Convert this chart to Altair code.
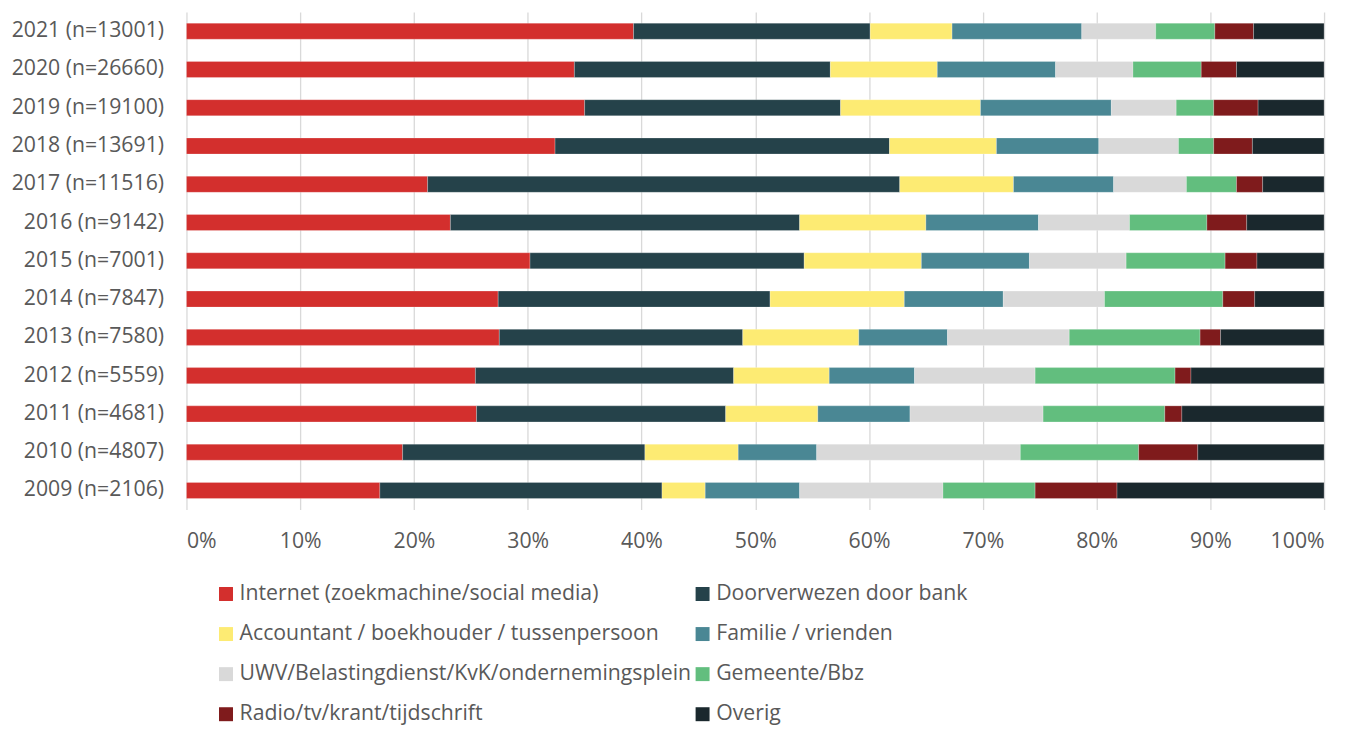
import altair as alt
import pandas as pd

years = ["2021 (n=13001)", "2020 (n=26660)", "2019 (n=19100)", "2018 (n=13691)",
         "2017 (n=11516)", "2016 (n=9142)", "2015 (n=7001)", "2014 (n=7847)",
         "2013 (n=7580)", "2012 (n=5559)", "2011 (n=4681)", "2010 (n=4807)",
         "2009 (n=2106)"]

categories = ["Internet (zoekmachine/social media)", "Doorverwezen door bank",
              "Accountant / boekhouder / tussenpersoon", "Familie / vrienden",
              "UWV/Belastingdienst/KvK/ondernemingsplein", "Gemeente/Bbz",
              "Radio/tv/krant/tijdschrift", "Overig"]

colors = ["#D32F2D", "#25424A", "#FDEB73", "#4A8794", "#D9D9D9", "#62BE7E",
          "#7F1B1C", "#1A282D"]

internet = [39.3, 34.1, 35.0, 32.4, 21.2, 23.2, 30.2, 27.4, 27.5, 25.4, 25.5, 19.0, 17.0]
bank = [20.8, 22.5, 22.5, 29.4, 41.5, 30.7, 24.1, 23.9, 21.4, 22.7, 21.9, 21.3, 24.8]
accountant = [7.2, 9.4, 12.3, 9.4, 10.0, 11.1, 10.3, 11.8, 10.2, 8.4, 8.1, 8.2, 3.8]
familie = [11.4, 10.4, 11.5, 9.0, 8.8, 9.9, 9.5, 8.7, 7.8, 7.5, 8.1, 6.9, 8.3]
uwv = [6.5, 6.8, 5.7, 7.0, 6.4, 8.0, 8.5, 8.9, 10.7, 10.6, 11.7, 17.9, 12.6]
gemeente = [5.2, 6.0, 3.3, 3.1, 4.4, 6.8, 8.7, 10.4, 11.5, 12.3, 10.7, 10.4, 8.1]
radio = [3.4, 3.1, 3.9, 3.4, 2.3, 3.5, 2.8, 2.8, 1.8, 1.4, 1.5, 5.2, 7.2]
overig = [6.2, 7.7, 5.8, 6.3, 5.4, 6.8, 5.9, 6.1, 9.1, 11.7, 12.5, 11.1, 18.2]

series = [internet, bank, accountant, familie, uwv, gemeente, radio, overig]

rows = []
for ci, (cat, vals) in enumerate(zip(categories, series)):
    for y, v in zip(years, vals):
        rows.append({"jaar": y, "bron": cat, "waarde": v, "volgorde": ci})
df = pd.DataFrame(rows)

FONT = "Open Sans"
FS = 21.3
GREY = "#595959"

chart = alt.Chart(df).mark_bar(stroke="white", strokeWidth=0.4, strokeOpacity=0.6).encode(
    x=alt.X("waarde:Q", stack="normalize",
            scale=alt.Scale(domain=[0, 1], nice=False),
            axis=alt.Axis(format="%", values=[0, 0.1, 0.2, 0.3, 0.4, 0.5, 0.6, 0.7, 0.8, 0.9, 1.0],
                          title=None, domain=False, ticks=False, grid=True,
                          gridColor="#D9D9D9", gridWidth=1.3,
                          labelFont=FONT, labelFontSize=FS, labelColor=GREY,
                          labelPadding=21)),
    y=alt.Y("jaar:N", sort=years,
            scale=alt.Scale(paddingInner=0.58, paddingOuter=0.29),
            axis=alt.Axis(title=None, domain=False, ticks=False, grid=False,
                          labelFont=FONT, labelFontSize=FS, labelColor=GREY,
                          labelPadding=23, labelLimit=400)),
    color=alt.Color("bron:N", sort=categories,
                    scale=alt.Scale(domain=categories, range=colors),
                    legend=alt.Legend(title=None, orient="none", legendX=29, legendY=573,
                                      direction="horizontal",
                                      columns=2, columnPadding=0, rowPadding=18.2,
                                      symbolType="square", symbolSize=196,
                                      symbolStrokeWidth=0, labelOffset=3,
                                      labelFont=FONT, labelFontSize=FS, labelColor=GREY,
                                      labelLimit=600, padding=0)),
    order=alt.Order("volgorde:Q", sort="ascending"),
).properties(
    width=1141, height=499,
    autosize=alt.AutoSizeParams(type="none"),
    padding={"left": 179, "top": 3, "right": 24, "bottom": 216},
).configure_view(stroke=None)

chart.save("out.html", embed_options={"renderer": "svg", "actions": False})
